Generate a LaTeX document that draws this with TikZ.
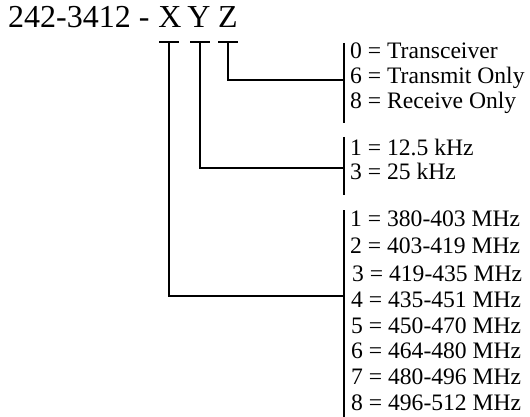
\documentclass[tikz,border=0pt]{standalone}
\usepackage{fontspec}
\setmainfont{Liberation Serif}
\begin{document}
\begin{tikzpicture}[x=1pt,y=-1pt,
  titletext/.style={font=\fontsize{32}{38}\selectfont, inner sep=0pt, anchor=base},
  itemtext/.style={font=\fontsize{23.6}{28}\selectfont, inner sep=0pt, anchor=base west},
  wire/.style={line width=2pt, line cap=butt, line join=miter}]
\useasboundingbox (0,0) rectangle (530,417);
% title
\node[titletext, anchor=base west] (pre) at (8,28) {242-3412 -};
\node[titletext] (X) at (170,28) {X};
\node[titletext] (Y) at (199,28) {Y};
\node[titletext] (Z) at (228,28) {Z};
% tick tops
\coordinate (xt) at (169,42);
\coordinate (yt) at (200,42);
\coordinate (zt) at (228,42);
% bars
\coordinate (zb1) at (344,43);  \coordinate (zb2) at (344,123);
\coordinate (yb1) at (344,137); \coordinate (yb2) at (344,195);
\coordinate (xb1) at (344,210); \coordinate (xb2) at (344,417);
\coordinate (zj) at (344,80);
\coordinate (yj) at (344,168);
\coordinate (xj) at (344,296);
% ticks
\draw[wire] ([xshift=-10pt]xt) -- ([xshift=10pt]xt);
\draw[wire] ([xshift=-10pt]yt) -- ([xshift=10pt]yt);
\draw[wire] ([xshift=-10pt]zt) -- ([xshift=10pt]zt);
% connectors
\draw[wire] (zt) |- (zj);
\draw[wire] (yt) |- (yj);
\draw[wire] (xt) |- (xj);
\draw[wire] (zb1) -- (zb2);
\draw[wire] (yb1) -- (yb2);
\draw[wire] (xb1) -- (xb2);
% Z items
\node[itemtext] (z0) at (350,59) {0 = Transceiver};
\node[itemtext] (z6) at (350,84) {6 = Transmit Only};
\node[itemtext] (z8) at (350,109) {8 = Receive Only};
% Y items
\node[itemtext] (y1) at (350,155) {1 = 12.5 kHz};
\node[itemtext] (y3) at (350,179) {3 = 25 kHz};
% X items
\node[itemtext] (x1) at (350,226) {1 = 380-403 MHz};
\node[itemtext] (x2) at (350,253) {2 = 403-419 MHz};
\node[itemtext] (x3) at (352,281) {3 = 419-435 MHz};
\node[itemtext] (x4) at (351,307) {4 = 435-451 MHz};
\node[itemtext] (x5) at (351,333) {5 = 450-470 MHz};
\node[itemtext] (x6) at (351,358) {6 = 464-480 MHz};
\node[itemtext] (x7) at (351,384) {7 = 480-496 MHz};
\node[itemtext] (x8) at (351,410) {8 = 496-512 MHz};
\end{tikzpicture}
\end{document}
